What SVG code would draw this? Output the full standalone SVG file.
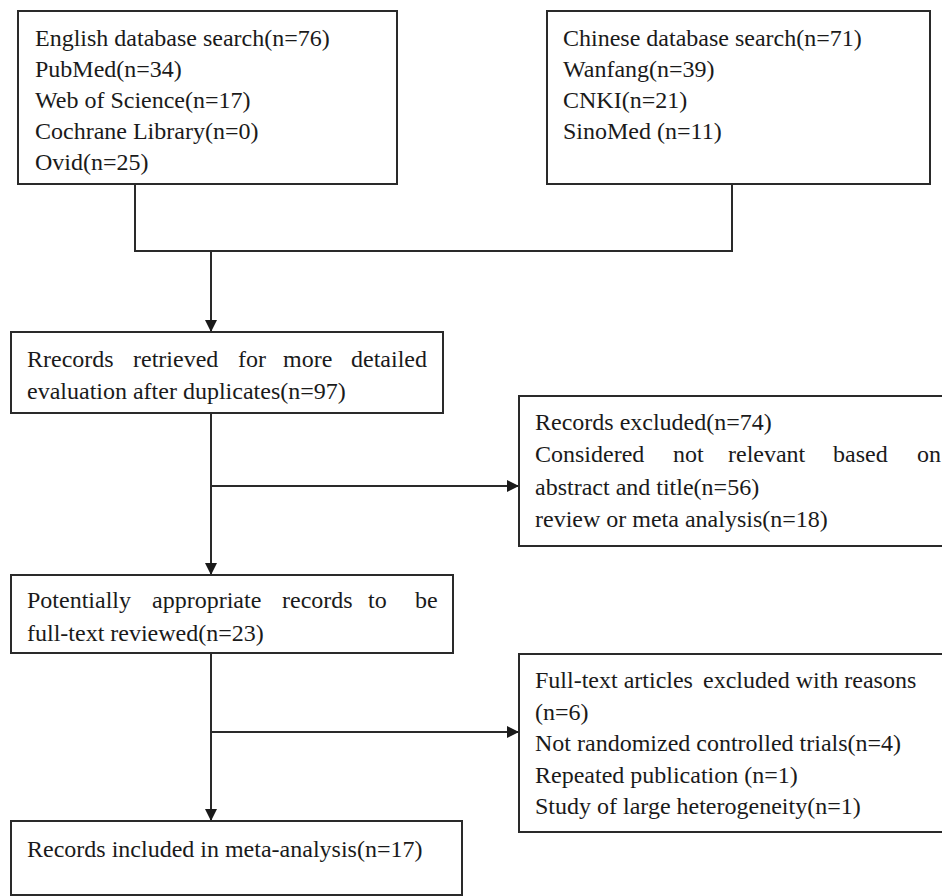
<svg xmlns="http://www.w3.org/2000/svg" width="942" height="896" viewBox="0 0 942 896">
<style>
.box{fill:#fff;stroke:#2a2a2a;stroke-width:2}
.t{font-family:"Liberation Serif","Times New Roman",serif;font-size:24px;fill:#1a1a1a}
.c{fill:none;stroke:#2a2a2a;stroke-width:2}
</style>
<defs>
<marker id="ah" markerUnits="userSpaceOnUse" markerWidth="12" markerHeight="12" refX="12" refY="6" orient="auto">
<path d="M0,0 L12,6 L0,12 z" fill="#1a1a1a"/>
</marker>
</defs>
<rect width="942" height="896" fill="#fff"/>
<g id="connectors">
<path class="c" d="M135,184 V251 H732 V184"/>
<path class="c" d="M211,251 V332" marker-end="url(#ah)"/>
<path class="c" d="M211,413 V575" marker-end="url(#ah)"/>
<path class="c" d="M211,486 H519" marker-end="url(#ah)"/>
<path class="c" d="M211,653 V821" marker-end="url(#ah)"/>
<path class="c" d="M211,732 H519" marker-end="url(#ah)"/>
</g>
<g id="english">
<rect class="box" x="18" y="11" width="379" height="173"/>
<text class="t" x="35" y="46">English database search(n=76)</text>
<text class="t" x="35" y="77">PubMed(n=34)</text>
<text class="t" x="35" y="108">Web of Science(n=17)</text>
<text class="t" x="35" y="139">Cochrane Library(n=0)</text>
<text class="t" x="35" y="170">Ovid(n=25)</text>
</g>
<g id="chinese">
<rect class="box" x="547" y="11" width="383" height="173"/>
<text class="t" x="563" y="46">Chinese database search(n=71)</text>
<text class="t" x="563" y="77">Wanfang(n=39)</text>
<text class="t" x="563" y="108">CNKI(n=21)</text>
<text class="t" x="563" y="139">SinoMed (n=11)</text>
</g>
<g id="retrieved">
<rect class="box" x="11" y="332" width="432" height="81"/>
<text class="t" y="367"><tspan x="27">Rrecords</tspan><tspan x="133">retrieved</tspan><tspan x="238">for</tspan><tspan x="283">more</tspan><tspan x="351">detailed</tspan></text>
<text class="t" x="27" y="399">evaluation after duplicates(n=97)</text>
</g>
<g id="excluded">
<rect class="box" x="519" y="396" width="430" height="150"/>
<text class="t" x="535" y="430">Records excluded(n=74)</text>
<text class="t" y="462"><tspan x="535">Considered</tspan><tspan x="673">not</tspan><tspan x="728">relevant</tspan><tspan x="833">based</tspan><tspan x="917">on</tspan></text>
<text class="t" x="535" y="495">abstract and title(n=56)</text>
<text class="t" x="535" y="527">review or meta analysis(n=18)</text>
</g>
<g id="fulltext">
<rect class="box" x="11" y="575" width="442" height="78"/>
<text class="t" y="608"><tspan x="27">Potentially</tspan><tspan x="152">appropriate</tspan><tspan x="282">records</tspan><tspan x="368">to</tspan><tspan x="415">be</tspan></text>
<text class="t" x="27" y="641">full-text reviewed(n=23)</text>
</g>
<g id="excluded2">
<rect class="box" x="519" y="654" width="430" height="178"/>
<text class="t" y="688"><tspan x="535">Full-text articles</tspan><tspan x="703">excluded with reasons</tspan></text>
<text class="t" x="535" y="720">(n=6)</text>
<text class="t" x="535" y="751">Not randomized controlled trials(n=4)</text>
<text class="t" x="535" y="783">Repeated publication (n=1)</text>
<text class="t" x="535" y="814">Study of large heterogeneity(n=1)</text>
</g>
<g id="included">
<rect class="box" x="11" y="821" width="451" height="74"/>
<text class="t" x="27" y="857">Records included in meta-analysis(n=17)</text>
</g>
</svg>
